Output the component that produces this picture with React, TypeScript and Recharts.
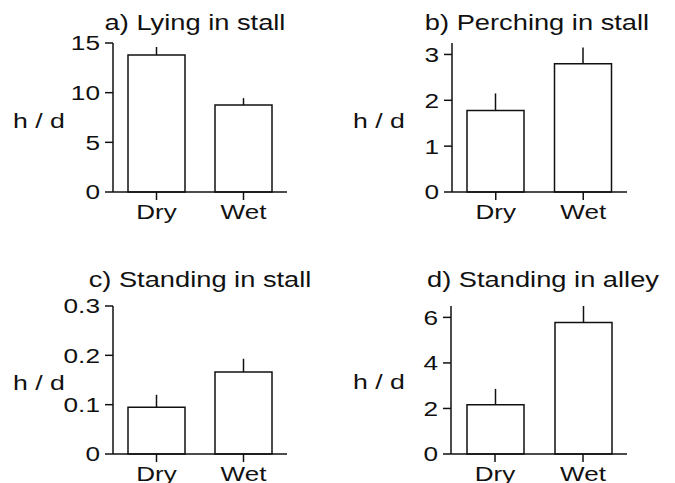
import React from "react"
import { BarChart, Bar, XAxis, YAxis, ErrorBar } from "recharts"

const categories = ["Dry", "Wet"]

const lyingMeans = [13.8, 8.75]
const lyingErrors = [0.8, 0.7]

const perchingMeans = [1.78, 2.8]
const perchingErrors = [0.37, 0.35]

const standingStallMeans = [0.095, 0.166]
const standingStallErrors = [0.025, 0.027]

const standingAlleyMeans = [2.16, 5.78]
const standingAlleyErrors = [0.7, 0.72]

const lyingTicks = [0, 5, 10, 15]
const perchingTicks = [0, 1, 2, 3]
const standingStallTicks = [0, 0.1, 0.2, 0.3]
const standingAlleyTicks = [0, 2, 4, 6]

const FONT = '"Liberation Sans", Arial, Helvetica, sans-serif'
const INK = "#111"

const buildRows = (means: number[], errors: number[]) =>
  categories.map((name, i) => ({ name, value: means[i], err: errors[i] }))

// the reference text is horizontally stretched, so scale glyphs in x
const StretchText = ({ x, y, anchor, size, sx, dy, children }: any) => (
  <text
    transform={`translate(${x},${y}) scale(${sx},1)`}
    textAnchor={anchor}
    dy={dy}
    fontSize={size}
    fontFamily={FONT}
    fill={INK}
  >
    {children}
  </text>
)

const YTick = ({ x, y, payload }: any) => (
  <StretchText x={x} y={y} anchor="end" size={20.5} sx={1.28} dy="0.36em">
    {payload.value}
  </StretchText>
)

const XTick = ({ x, y, payload }: any) => (
  <StretchText x={x} y={y} anchor="middle" size={20.5} sx={1.27} dy="0.72em">
    {payload.value}
  </StretchText>
)

interface PanelProps {
  left: number
  top: number
  width: number
  height: number
  margin: { top: number; right: number; bottom: number; left: number }
  means: number[]
  errors: number[]
  domain: [number, number]
  ticks: number[]
}

function Panel({ left, top, width, height, margin, means, errors, domain, ticks }: PanelProps) {
  const rows = buildRows(means, errors)
  return (
    <div style={{ position: "absolute", left, top }}>
      <BarChart width={width} height={height} data={rows} margin={margin}>
        <XAxis
          dataKey="name"
          height={30}
          tick={<XTick />}
          tickSize={8}
          tickMargin={4}
          axisLine={{ stroke: INK, strokeWidth: 1.5 }}
          tickLine={{ stroke: INK, strokeWidth: 1.5 }}
        />
        <YAxis
          width={60}
          domain={domain}
          ticks={ticks}
          tick={<YTick />}
          tickSize={8}
          tickMargin={5}
          axisLine={{ stroke: INK, strokeWidth: 1.5 }}
          tickLine={{ stroke: INK, strokeWidth: 1.5 }}
        />
        <Bar dataKey="value" fill="#fff" stroke={INK} strokeWidth={1.5} barSize={57} isAnimationActive={false}>
          <ErrorBar
            dataKey={(d: any) => [0, d.err]}
            direction="y"
            width={0}
            stroke={INK}
            strokeWidth={1.5}
            isAnimationActive={false}
          />
        </Bar>
      </BarChart>
    </div>
  )
}

const titles = [
  { text: "a) Lying in stall", x: 195, y: 30 },
  { text: "b) Perching in stall", x: 537, y: 30 },
  { text: "c) Standing in stall", x: 200, y: 287 },
  { text: "d) Standing in alley", x: 543, y: 287 },
]

const unitLabels = [
  { x: 13, y: 128 },
  { x: 353, y: 128 },
  { x: 13, y: 390 },
  { x: 353, y: 389 },
]

export default function App() {
  return (
    <div style={{ position: "absolute", left: 0, top: 0, width: 675, height: 483, background: "#fff" }}>
      <Panel
        left={0}
        top={0}
        width={340}
        height={240}
        margin={{ top: 43, right: 53, bottom: 18, left: 53 }}
        means={lyingMeans}
        errors={lyingErrors}
        domain={[0, 15]}
        ticks={lyingTicks}
      />
      <Panel
        left={340}
        top={0}
        width={335}
        height={240}
        margin={{ top: 43, right: 48, bottom: 18, left: 52 }}
        means={perchingMeans}
        errors={perchingErrors}
        domain={[0, 3.25]}
        ticks={perchingTicks}
      />
      <Panel
        left={0}
        top={240}
        width={340}
        height={243}
        margin={{ top: 66, right: 53, bottom: -1, left: 53 }}
        means={standingStallMeans}
        errors={standingStallErrors}
        domain={[0, 0.3]}
        ticks={standingStallTicks}
      />
      <Panel
        left={340}
        top={240}
        width={335}
        height={243}
        margin={{ top: 66, right: 48, bottom: -1, left: 51 }}
        means={standingAlleyMeans}
        errors={standingAlleyErrors}
        domain={[0, 6.5]}
        ticks={standingAlleyTicks}
      />
      <svg
        width={675}
        height={483}
        style={{ position: "absolute", left: 0, top: 0, pointerEvents: "none" }}
      >
        {titles.map((t) => (
          <StretchText key={t.text} x={t.x} y={t.y} anchor="middle" size={22} sx={1.24}>
            {t.text}
          </StretchText>
        ))}
        {unitLabels.map((l, i) => (
          <StretchText key={i} x={l.x} y={l.y} anchor="start" size={21} sx={1.27}>
            h / d
          </StretchText>
        ))}
      </svg>
    </div>
  )
}
